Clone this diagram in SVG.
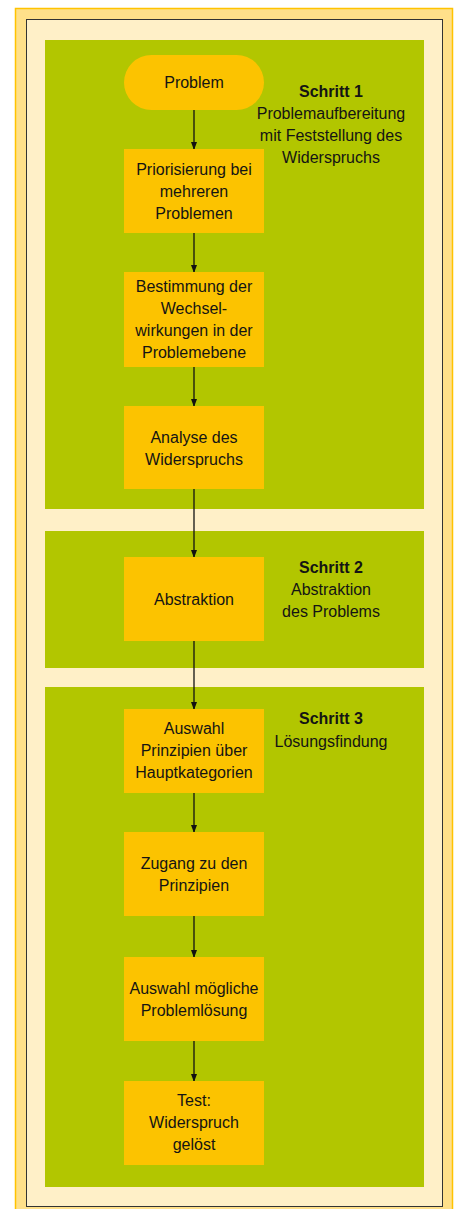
<svg xmlns="http://www.w3.org/2000/svg" width="456" height="1209" viewBox="0 0 456 1209">
<defs>
<marker id="ah" markerWidth="8" markerHeight="10" refX="7" refY="4" orient="auto" markerUnits="userSpaceOnUse" viewBox="0 0 8 8">
<path d="M0,1 L8,4 L0,7 Z" fill="#111"/>
</marker>
</defs>
<style>
.panel{fill:#B2C600}
.box{fill:#FCC300}
.t{font-family:"Liberation Sans",Arial,sans-serif;font-size:16px;fill:#141414;text-anchor:middle}
.b{font-weight:bold}
.c{stroke:#111;stroke-width:1.3;fill:none;marker-end:url(#ah)}
</style>
<rect x="15.5" y="8.5" width="437" height="1212" fill="#FFE08A" stroke="#FFC300" stroke-width="1.5"/>
<rect x="26.5" y="19.5" width="416" height="1187" fill="#FFF0C8" stroke="#333" stroke-width="1"/>
<g id="panel1"><rect class="panel" x="45" y="40" width="379" height="469"/>
<text class="t b" x="331" y="97">Schritt 1</text>
<text class="t" x="331" y="119">Problemaufbereitung</text>
<text class="t" x="331" y="141">mit Feststellung des</text>
<text class="t" x="331" y="163">Widerspruchs</text></g>
<g id="panel2"><rect class="panel" x="45" y="531" width="379" height="137"/>
<text class="t b" x="331" y="573">Schritt 2</text>
<text class="t" x="331" y="595">Abstraktion</text>
<text class="t" x="331" y="617">des Problems</text></g>
<g id="panel3"><rect class="panel" x="45" y="687" width="379" height="500"/>
<text class="t b" x="331" y="724">Schritt 3</text>
<text class="t" x="331" y="747">Lösungsfindung</text></g>
<g id="connectors">
<line class="c" x1="194" y1="110" x2="194" y2="149"/>
<line class="c" x1="194" y1="233" x2="194" y2="272"/>
<line class="c" x1="194" y1="367" x2="194" y2="406"/>
<line class="c" x1="194" y1="489" x2="194" y2="557"/>
<line class="c" x1="194" y1="641" x2="194" y2="709"/>
<line class="c" x1="194" y1="793" x2="194" y2="832"/>
<line class="c" x1="194" y1="916" x2="194" y2="957"/>
<line class="c" x1="194" y1="1041" x2="194" y2="1081"/>
</g>
<g id="n-problem"><rect class="box" x="124" y="55" width="140" height="55" rx="27.5"/>
<text class="t" x="194" y="88">Problem</text></g>
<g id="n-prior"><rect class="box" x="124" y="149" width="140" height="84"/>
<text class="t" x="194" y="175">Priorisierung bei</text>
<text class="t" x="194" y="197">mehreren</text>
<text class="t" x="194" y="219">Problemen</text></g>
<g id="n-bestimmung"><rect class="box" x="124" y="272" width="140" height="95"/>
<text class="t" x="194" y="292">Bestimmung der</text>
<text class="t" x="194" y="314">Wechsel-</text>
<text class="t" x="194" y="336">wirkungen in der</text>
<text class="t" x="194" y="358">Problemebene</text></g>
<g id="n-analyse"><rect class="box" x="124" y="406" width="140" height="83"/>
<text class="t" x="194" y="443">Analyse des</text>
<text class="t" x="194" y="465">Widerspruchs</text></g>
<g id="n-abstraktion"><rect class="box" x="124" y="557" width="140" height="84"/>
<text class="t" x="194" y="605">Abstraktion</text></g>
<g id="n-auswahl1"><rect class="box" x="124" y="709" width="140" height="84"/>
<text class="t" x="194" y="734">Auswahl</text>
<text class="t" x="194" y="756">Prinzipien über</text>
<text class="t" x="194" y="778">Hauptkategorien</text></g>
<g id="n-zugang"><rect class="box" x="124" y="832" width="140" height="84"/>
<text class="t" x="194" y="869">Zugang zu den</text>
<text class="t" x="194" y="891">Prinzipien</text></g>
<g id="n-auswahl2"><rect class="box" x="124" y="957" width="140" height="84"/>
<text class="t" x="194" y="994">Auswahl mögliche</text>
<text class="t" x="194" y="1016">Problemlösung</text></g>
<g id="n-test"><rect class="box" x="124" y="1081" width="140" height="84"/>
<text class="t" x="194" y="1106">Test:</text>
<text class="t" x="194" y="1128">Widerspruch</text>
<text class="t" x="194" y="1150">gelöst</text></g>
</svg>
